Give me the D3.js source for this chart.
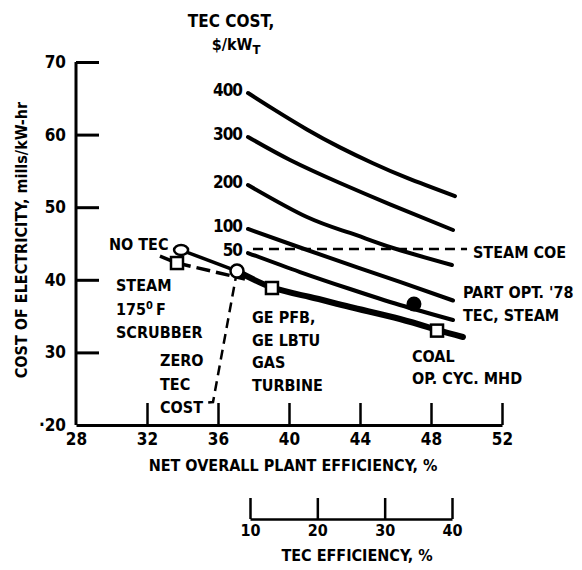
<!DOCTYPE html>
<html><head><meta charset="utf-8">
<script src="https://cdn.jsdelivr.net/npm/d3@7"></script>
<style>
body{margin:0;background:#fff;}
svg text{font-family:"Liberation Sans Narrow","DejaVu Sans Condensed","Liberation Sans",sans-serif;font-weight:bold;fill:#000;}
</style></head>
<body>
<svg id="c" width="582" height="570"></svg>
<script>
// ---- data ----
const xTicks = [28, 32, 36, 40, 44, 48, 52];
const yTicks = [20, 30, 40, 50, 60, 70];
const yTickLabels = ["·20", "30", "40", "50", "60", "70"];
const tecEffTicks = [10, 20, 30, 40];
const tecCostLabels = ["400", "300", "200", "100", "50"];
// TEC cost curves: [net plant efficiency %, COE mills/kW-hr]
const cost400 = [[37.69,65.73],[39.10,63.54],[41.01,60.71],[42.87,58.24],[44.73,56.05],[46.65,54.03],[49.35,51.52]];
const cost300 = [[37.69,59.67],[40.06,56.50],[42.87,53.33],[45.69,50.40],[49.24,46.86]];
const cost200 = [[37.69,53.06],[41.01,48.65],[43.44,46.45],[45.86,44.38],[49.18,42.04]];
const cost100 = [[37.69,47.00],[40.62,44.45],[43.44,42.05],[46.25,39.70],[49.24,37.15]];
const cost50  = [[37.69,43.69],[40.62,41.07],[43.44,38.73],[46.25,36.53],[49.24,34.46]];
const zeroCost = [[37.07,41.21],[39.04,38.95],[41.18,37.63],[43.44,36.25],[46.25,34.60],[48.34,33.09],[49.80,32.12]];
const noTec = [[33.92,44.10],[37.07,41.21]];
const steamSolid = [[32.73,43.25],[33.69,42.31]];
const steamDashed = [[33.69,42.31],[37.52,40.11]];
const zeroTecDash = [[37.07,41.21],[35.72,23.17],[35.38,23.10]];
const steamCOE = [[37.97,44.24],[50.03,44.24]];
const noTecMarker = [[33.92,44.10]];
const openSquares = [[33.69,42.31],[39.04,38.87],[48.34,33.00]];
const openCircles = [[37.07,41.21]];
const filledCircles = [[47.04,36.67]];

// ---- drawing ----
const svg = d3.select("#c");
const x = d3.scaleLinear().domain([28, 52]).range([76, 502]);
const y = d3.scaleLinear().domain([20, 70]).range([425, 62]);
const xTec = d3.scaleLinear().domain([10, 40]).range([250, 452]);
const line = d3.line().x(d => x(d[0])).y(d => y(d[1]));
const curve = d3.line().x(d => x(d[0])).y(d => y(d[1])).curve(d3.curveNatural);

// y axis
const gy = svg.append("g").attr("transform", `translate(${x(28)},0)`)
  .call(d3.axisLeft(y).tickValues(yTicks.slice(1)).tickSize(-23).tickSizeOuter(0).tickPadding(10)
        .tickFormat((d) => yTickLabels[yTicks.indexOf(d)]));
gy.select(".domain").attr("stroke-width", 3).attr("d", `M0,${y(70)}V${y(20)}`);
gy.selectAll(".tick line").attr("stroke-width", 3);
gy.selectAll(".tick text").attr("font-size", 17).attr("font-family", null);
svg.append("text").attr("x", x(28) - 10).attr("y", y(20)).attr("dy", "0.35em")
  .attr("text-anchor", "end").attr("font-size", 17).text(yTickLabels[0]);

// x axis
const gx = svg.append("g").attr("transform", `translate(0,${y(20)})`)
  .call(d3.axisBottom(x).tickValues(xTicks).tickSize(-22).tickSizeOuter(0).tickPadding(8).tickFormat(d3.format("d")));
gx.select(".domain").attr("stroke-width", 3);
gx.selectAll(".tick line").attr("stroke-width", 2.5);
gx.selectAll(".tick").filter(d => d === 28).select("line").remove();
gx.selectAll(".tick text").attr("font-size", 17).attr("font-family", null);

// TEC efficiency axis
const gt = svg.append("g").attr("transform", "translate(0,519)")
  .call(d3.axisBottom(xTec).tickValues(tecEffTicks).tickSize(-21).tickSizeOuter(0).tickPadding(6).tickFormat(d3.format("d")));
gt.select(".domain").attr("stroke-width", 2.5);
gt.selectAll(".tick line").attr("stroke-width", 2.5);
gt.selectAll(".tick text").attr("font-size", 16).attr("font-family", null);

// axis titles
svg.append("text").attr("transform", "translate(27,240) rotate(-90)")
  .attr("text-anchor", "middle").attr("font-size", 16).text("COST OF ELECTRICITY, mills/kW-hr");
svg.append("text").attr("x", 293).attr("y", 471).attr("text-anchor", "middle")
  .attr("font-size", 16).text("NET OVERALL PLANT EFFICIENCY, %");
svg.append("text").attr("x", 357).attr("y", 561).attr("text-anchor", "middle")
  .attr("font-size", 16).text("TEC EFFICIENCY, %");

// TEC cost header
svg.append("text").attr("x", 231).attr("y", 27).attr("text-anchor", "middle").attr("font-size", 17).text("TEC COST,");
const hdr = svg.append("text").attr("x", 236).attr("y", 50).attr("text-anchor", "middle").attr("font-size", 16);
hdr.append("tspan").text("$/kW");
hdr.append("tspan").attr("baseline-shift", "-30%").attr("font-size", 13).text("T");

// TEC cost curves
const costCurves = [cost400, cost300, cost200, cost100, cost50];
svg.append("g").selectAll("path").data(costCurves).join("path")
  .attr("d", curve).attr("fill", "none").attr("stroke", "#000").attr("stroke-width", 4).attr("stroke-linecap", "round");
svg.append("g").selectAll("text").data(costCurves).join("text")
  .attr("x", d => x(d[0][0]) - 6).attr("y", d => y(d[0][1]) - 3).attr("dy", "0.35em")
  .attr("text-anchor", "end").attr("font-size", 17).style("letter-spacing", "-1px")
  .text((d, i) => tecCostLabels[i]);

// steam COE dashed
svg.append("path").attr("d", line(steamCOE)).attr("fill", "none").attr("stroke", "#000")
  .attr("stroke-width", 2.5).attr("stroke-dasharray", "10,6");

// zero TEC cost line (thick)
svg.append("path").attr("d", curve(zeroCost)).attr("fill", "none").attr("stroke", "#000")
  .attr("stroke-width", 6).attr("stroke-linecap", "round");
svg.append("path").attr("d", line(noTec)).attr("fill", "none").attr("stroke", "#000").attr("stroke-width", 3.5);
svg.append("path").attr("d", line(steamSolid)).attr("fill", "none").attr("stroke", "#000").attr("stroke-width", 3.5);
svg.append("path").attr("d", line(steamDashed)).attr("fill", "none").attr("stroke", "#000")
  .attr("stroke-width", 3.5).attr("stroke-dasharray", "14,6");
svg.append("path").attr("d", line(zeroTecDash)).attr("fill", "none").attr("stroke", "#000")
  .attr("stroke-width", 2.5).attr("stroke-dasharray", "10,6");

// markers
svg.append("g").selectAll("ellipse").data(noTecMarker).join("ellipse")
  .attr("cx", d => x(d[0])).attr("cy", d => y(d[1])).attr("rx", 7).attr("ry", 5)
  .attr("fill", "#fff").attr("stroke", "#000").attr("stroke-width", 2.5);
svg.append("g").selectAll("rect").data(openSquares).join("rect")
  .attr("x", d => x(d[0]) - 6).attr("y", d => y(d[1]) - 6).attr("width", 12).attr("height", 12)
  .attr("fill", "#fff").attr("stroke", "#000").attr("stroke-width", 2.5);
svg.append("g").selectAll("circle.o").data(openCircles).join("circle")
  .attr("cx", d => x(d[0])).attr("cy", d => y(d[1])).attr("r", 6.5)
  .attr("fill", "#fff").attr("stroke", "#000").attr("stroke-width", 2.5);
svg.append("g").selectAll("circle.f").data(filledCircles).join("circle")
  .attr("cx", d => x(d[0])).attr("cy", d => y(d[1])).attr("r", 7.5).attr("fill", "#000");

// annotations
function label(lines, px, py, lh, anchor) {
  const t = svg.append("text").attr("font-size", 16).attr("text-anchor", anchor || "start");
  lines.forEach((s, i) => {
    t.append("tspan").attr("x", px).attr("y", py + i * lh).text(s);
  });
  return t;
}
label(["NO TEC"], 109, 250, 0);
const st = svg.append("text").attr("font-size", 16);
st.append("tspan").attr("x", 116).attr("y", 291).text("STEAM");
st.append("tspan").attr("x", 116).attr("y", 315).text("175");
st.append("tspan").attr("baseline-shift", "super").attr("font-size", 11).text("0");
st.append("tspan").attr("dx", 3).text("F");
st.append("tspan").attr("x", 116).attr("y", 338).text("SCRUBBER");
label(["ZERO", "TEC", "COST"], 160, 366, 23.5);
label(["GE PFB,", "GE LBTU", "GAS", "TURBINE"], 252, 323, 22.5);
label(["STEAM COE"], 473, 258, 0);
label(["PART OPT. '78", "TEC, STEAM"], 463, 298, 23);
label(["COAL", "OP. CYC. MHD"], 412, 362, 22);
</script>
</body></html>
